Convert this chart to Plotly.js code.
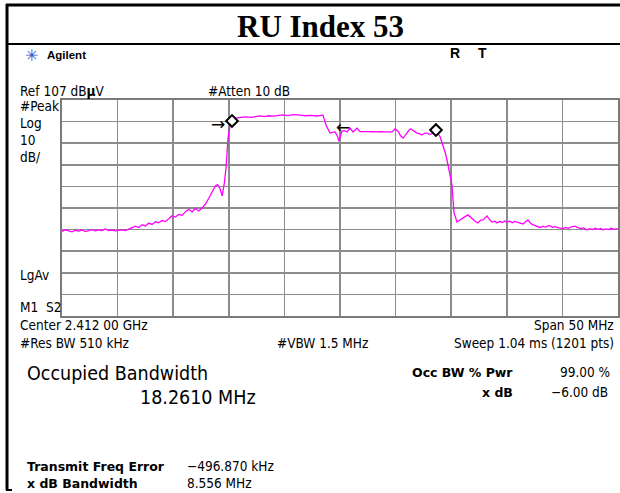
<!DOCTYPE html>
<html>
<head>
<meta charset="utf-8">
<script src="https://cdn.plot.ly/plotly-3.0.1.min.js"></script>
<style>html,body{margin:0;padding:0;background:#fff;}#chart{width:620px;height:493px;}</style>
</head>
<body>
<div id="chart"></div>
<script>
// ---- data ----
const startMHz = 2387;
const spanMHz = 50;
const refLevel = 107;
const dbPerDiv = 10;
const offsetMHz = [
 0.0,0.3,0.6,0.9,1.2,1.5,1.8,2.1,2.4,2.7,3.0,3.3,3.6,3.9,4.2,4.5,4.8,5.1,5.4,5.7,
 6.0,6.3,6.6,6.9,7.2,7.5,7.8,8.1,8.4,8.7,9.0,9.3,9.6,9.9,10.2,10.5,10.8,11.1,11.4,11.7,
 12.0,12.3,12.6,12.9,13.2,13.5,13.8,14.0,14.2,14.4,14.6,14.75,14.93,15.1,15.29,15.6,16.0,16.5,17.0,17.5,
 17.8,18.2,18.6,19.0,19.5,19.87,20.3,20.8,21.4,21.9,22.4,22.93,23.2,23.47,23.74,24.1,24.35,24.55,24.75,24.9,
 25.05,25.18,25.4,25.63,25.9,26.17,26.53,26.8,27.2,27.6,28.0,28.33,28.7,29.1,29.4,29.68,29.95,30.22,30.45,30.67,
 30.85,31.03,31.2,31.38,31.6,31.92,32.15,32.37,32.6,32.82,33.05,33.27,33.5,33.72,34.0,34.26,34.5,34.71,34.9,35.07,
 35.25,35.52,35.75,35.97,36.25,36.51,36.75,36.96,37.2,37.41,37.65,37.86,38.05,38.22,38.45,38.67,38.9,39.12,39.35,39.6,
 39.8,40.02,40.25,40.5,40.7,40.92,41.2,41.46,41.7,41.9,42.1,42.27,42.5,42.75,42.99,43.25,43.5,43.7,43.88,44.1,
 44.35,44.6,44.85,45.05,45.3,45.55,45.8,46.13,46.4,46.65,46.9,47.2,47.45,47.7,47.95,48.2,48.45,48.65,48.9,49.15,
 49.4,49.65,50.0
];
const levelDbuV = [
 46.2,46.9,46.4,46.0,46.7,46.3,46.8,46.1,46.5,47.0,46.4,46.9,46.6,47.3,46.5,46.8,46.4,46.7,46.9,46.5,
 47.4,47.9,48.6,48.0,49.3,48.7,50.0,49.4,50.6,50.1,51.2,50.8,52.0,53.4,52.8,54.0,53.6,55.3,56.4,55.2,
 56.8,55.6,57.0,58.8,61.5,64.5,67.3,67.8,66.0,62.6,68.5,75.5,89.4,94.5,97.3,98.6,98.9,99.2,99.0,99.4,
 99.6,99.3,99.7,99.5,99.9,100.1,99.8,100.2,100.0,99.7,99.9,99.6,99.8,100.0,95.4,91.7,92.0,92.2,90.5,88.0,
 90.5,92.6,92.8,92.2,94.0,92.2,94.0,92.4,92.4,92.2,92.3,92.2,92.4,92.2,92.3,92.2,93.6,92.6,90.4,89.4,
 90.5,91.7,93.0,93.6,92.8,91.7,91.4,90.8,91.6,91.7,91.0,91.3,91.8,92.2,90.0,86.2,82.0,77.0,72.5,67.6,
 55.0,50.5,51.3,51.9,53.0,53.8,52.6,51.5,50.6,50.1,51.4,51.5,52.6,53.3,51.6,50.5,50.9,50.1,50.8,50.3,
 51.0,50.5,50.9,50.2,50.8,50.5,50.3,49.6,50.6,51.5,50.2,49.4,49.0,48.6,48.0,48.5,48.2,48.7,48.8,48.1,
 48.4,47.9,47.6,47.5,48.0,47.6,48.3,48.6,47.9,47.5,47.8,46.9,47.4,47.0,47.6,47.1,47.5,46.9,47.3,47.0,
 47.6,47.1,47.5
];
const markerOffsetMHz = [15.29, 33.63];
const markerLevel = [97.3, 93.1];
const obwArrowOffsetMHz = [14.0, 25.3];
const obwArrowLevel = [95.8, 94.6];
const obwArrowText = ['→', '←'];

const freqMHz = offsetMHz.map(o => startMHz + o);

// ---- layout helpers (pixel -> paper) ----
const L = 62, R = 618, T = 100, B = 316;
const W = 620, H = 493;
const px = x => (x - L) / (R - L);
const py = y => (B - y) / (B - T);

const mono = 'DejaVu Sans Condensed, Liberation Sans Narrow, DejaVu Sans, sans-serif';
const bold = 'DejaVu Sans, Liberation Sans, sans-serif';

function txt(x, y, text, opts) {
  opts = opts || {};
  const a = opts.anchor || 'left';
  const dx = a === 'left' ? -2 : (a === 'right' ? 2 : 0);
  return {
    xref: 'paper', yref: 'paper', x: px(x + dx), y: py(y), text: text, showarrow: false,
    xanchor: a, yanchor: 'middle',
    font: {family: opts.family || mono, size: opts.size || 13.5, color: opts.color || '#000'}
  };
}

const annotations = [
  txt(320, 27, '<b>RU Index 53</b>', {anchor: 'center', family: 'Liberation Serif, Times New Roman, serif', size: 31}),
  txt(25, 55, '✳', {color: '#3050d0', size: 16, family: 'DejaVu Sans'}),
  txt(47, 55, '<b>Agilent</b>', {family: 'Liberation Sans, Arial, sans-serif', size: 11.5}),
  txt(450, 53, '<b>R</b>', {family: 'Liberation Sans, Arial, sans-serif', size: 14}),
  txt(478, 53, '<b>T</b>', {family: 'Liberation Sans, Arial, sans-serif', size: 14}),
  txt(20, 91, 'Ref 107 dB<b>µ</b>V'),
  txt(208, 91, '#Atten 10 dB'),
  txt(20, 106, '#Peak'),
  txt(20, 123, 'Log'),
  txt(20, 140, '10'),
  txt(20, 157, 'dB/'),
  txt(20, 275, 'LgAv'),
  txt(20, 307, 'M1  S2'),
  txt(20, 325, 'Center 2.412 00 GHz'),
  txt(614, 325, 'Span 50 MHz', {anchor: 'right'}),
  txt(20, 343, '#Res BW 510 kHz'),
  txt(277, 343, '#VBW 1.5 MHz'),
  txt(614, 343, 'Sweep 1.04 ms (1201 pts)', {anchor: 'right'}),
  txt(27, 373, 'Occupied Bandwidth', {size: 19.5}),
  txt(140, 397, '18.2610 MHz', {size: 19.5}),
  txt(513, 372, '<b>Occ BW % Pwr</b>', {anchor: 'right', family: bold, size: 12.5}),
  txt(610, 372, '99.00 %', {anchor: 'right'}),
  txt(513, 392, '<b>x dB</b>', {anchor: 'right', family: bold, size: 12.5}),
  txt(608, 392, '−6.00 dB', {anchor: 'right'}),
  txt(27, 466, '<b>Transmit Freq Error</b>', {family: bold, size: 12.5}),
  txt(187, 466, '−496.870 kHz'),
  txt(27, 483, '<b>x dB Bandwidth</b>', {family: bold, size: 12.5}),
  txt(187, 483, '8.556 MHz')
];

// OBW arrows placed in data coords
for (let i = 0; i < obwArrowText.length; i++) {
  annotations.push({
    xref: 'x', yref: 'y', x: startMHz + obwArrowOffsetMHz[i], y: obwArrowLevel[i],
    text: obwArrowText[i], showarrow: false, xanchor: 'center', yanchor: 'middle',
    font: {family: 'DejaVu Sans', size: 17, color: '#000'}
  });
}

const frameLine = {color: '#000', width: 3};
const shapes = [
  {type: 'line', xref: 'paper', yref: 'paper', x0: px(6), x1: px(621), y0: py(5), y1: py(5), line: frameLine},
  {type: 'line', xref: 'paper', yref: 'paper', x0: px(7), x1: px(7), y0: py(4), y1: py(490), line: frameLine},
  {type: 'line', xref: 'paper', yref: 'paper', x0: px(6), x1: px(621), y0: py(44), y1: py(44), line: {color: '#000', width: 2}},
  {type: 'line', xref: 'paper', yref: 'paper', x0: px(6), x1: px(12), y0: py(490), y1: py(490), line: {color: '#000', width: 2}}
];

const traces = [
  {
    x: freqMHz, y: levelDbuV, type: 'scatter', mode: 'lines',
    line: {color: '#ff00ff', width: 1.3}, hoverinfo: 'skip'
  },
  {
    x: markerOffsetMHz.map(o => startMHz + o), y: markerLevel, type: 'scatter', mode: 'markers',
    marker: {symbol: 'diamond', size: 9, color: '#ffffff', line: {color: '#000', width: 2}}, hoverinfo: 'skip'
  }
];

const layout = {
  width: W, height: H,
  margin: {l: L, r: W - R, t: T, b: H - B, pad: 0},
  paper_bgcolor: '#ffffff', plot_bgcolor: '#ffffff',
  showlegend: false,
  xaxis: {
    range: [startMHz, startMHz + spanMHz], dtick: 5, tick0: startMHz,
    showgrid: true, gridcolor: '#8c8c8c', gridwidth: 1.5,
    showticklabels: false, ticks: '', zeroline: false,
    showline: true, mirror: true, linecolor: '#7a7a7a', linewidth: 2, fixedrange: true
  },
  yaxis: {
    range: [refLevel - 10 * dbPerDiv, refLevel], dtick: dbPerDiv, tick0: refLevel,
    showgrid: true, gridcolor: '#8c8c8c', gridwidth: 1.5,
    showticklabels: false, ticks: '', zeroline: false,
    showline: true, mirror: true, linecolor: '#7a7a7a', linewidth: 2, fixedrange: true
  },
  annotations: annotations,
  shapes: shapes
};

Plotly.newPlot('chart', traces, layout, {staticPlot: true, displayModeBar: false});
</script>
</body>
</html>
